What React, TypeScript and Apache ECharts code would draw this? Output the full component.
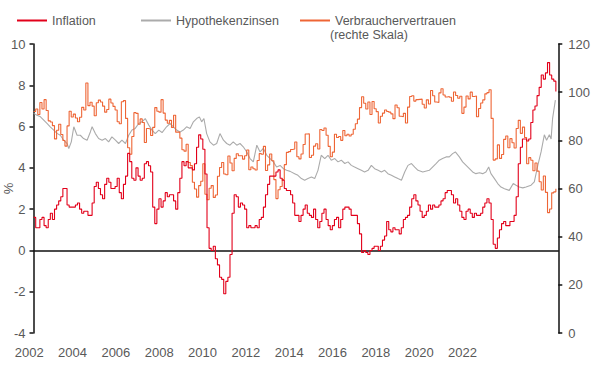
import React, { useEffect, useRef } from "react";
import * as echarts from "echarts";

// Monthly series start in December 2001
const startYear = 2001;
const startMonth = 12;

// Inflation, % (left scale), monthly from Dec 2001
const inflation = [
  1.6,
  1.1, 1.1, 1.5, 1.6, 1.2, 1.1, 1.5, 1.8, 1.5, 2.0, 2.2, 2.4,
  2.6, 3.0, 3.0, 2.2, 2.1, 2.1, 2.1, 2.2, 2.3, 2.0, 1.8, 1.9,
  1.9, 1.7, 1.7, 2.3, 3.1, 3.3, 3.0, 2.7, 2.5, 3.2, 3.5, 3.3,
  3.0, 3.0, 3.1, 3.5, 2.8, 2.5, 3.2, 3.6, 4.7, 4.3, 3.5, 3.4,
  4.0, 3.6, 3.4, 3.5, 4.2, 4.3, 4.1, 3.8, 2.1, 1.3, 2.0, 2.5,
  2.1, 2.4, 2.8, 2.6, 2.7, 2.7, 2.4, 2.0, 2.8, 3.5, 4.3, 4.1,
  4.3, 4.0, 4.0, 3.9, 4.2, 5.0, 5.6, 5.4, 4.9, 3.7, 1.1, 0.1,
  0.0, 0.2, -0.4, -0.7, -1.3, -1.4, -2.1, -1.5, -1.3, -0.2, 1.8, 2.7,
  2.6, 2.1, 2.3, 2.2, 2.0, 1.1, 1.2, 1.1, 1.1, 1.2, 1.1, 1.5,
  1.6, 2.1, 2.7, 3.2, 3.6, 3.6, 3.6, 3.8, 3.9, 3.5, 3.4, 3.0,
  2.9, 2.9, 2.7, 2.3, 1.7, 1.7, 1.4, 1.7, 2.0, 2.2, 1.8, 1.7,
  1.6, 2.0, 1.5, 1.1, 1.4, 1.8, 2.0, 1.5, 1.2, 1.0, 1.2, 1.5,
  1.6, 1.1, 1.5, 2.0, 2.1, 2.1, 2.0, 1.7, 1.7, 1.7, 1.3, 0.8,
  -0.1, 0.0, -0.1, -0.2, 0.0, 0.1, 0.2, 0.2, 0.0, 0.2, 0.5, 0.7,
  1.4, 1.0, 0.9, 1.1, 1.0, 1.0, 0.8, 1.1, 1.5, 1.6, 1.7, 2.1,
  2.5, 2.7, 2.4, 2.2, 1.9, 1.6, 1.7, 1.9, 2.2, 2.0, 2.2, 2.1,
  2.1, 2.2, 2.4, 2.5, 2.8, 2.9, 2.9, 2.7, 2.3, 2.5, 2.2, 1.9,
  1.6, 1.5, 1.9, 2.0, 1.8, 1.6, 1.8, 1.7, 1.7, 1.8, 2.1, 2.3,
  2.5, 2.3, 1.5, 0.3, 0.1, 0.6, 1.0, 1.3, 1.4, 1.2, 1.2, 1.4,
  1.4, 1.7, 2.6, 4.2, 5.0, 5.4, 5.4, 5.3, 5.4, 6.2, 6.8, 7.0,
  7.5, 7.9, 8.5, 8.3, 8.6, 9.1, 8.5, 8.3, 8.2, 7.7,
];

// Consumer confidence (right scale), monthly from Dec 2001
const confidence = [
  92.0,
  93.0, 90.7, 95.7, 93.0, 96.9, 92.4, 88.1, 87.6, 86.1, 80.6, 84.2, 86.7,
  82.4, 79.9, 77.6, 86.0, 92.1, 89.7, 90.9, 89.3, 87.7, 89.6, 93.7, 92.6,
  103.8, 94.4, 95.8, 94.2, 90.2, 95.6, 96.7, 95.9, 94.2, 91.7, 92.8, 97.1,
  95.5, 94.1, 92.6, 87.7, 86.9, 96.0, 96.5, 89.1, 76.9, 74.2, 81.6, 91.5,
  91.2, 86.7, 88.9, 87.4, 79.1, 84.9, 84.7, 82.0, 85.4, 93.6, 92.1, 91.7,
  96.9, 91.3, 88.4, 87.1, 88.3, 85.3, 90.4, 83.4, 83.4, 80.9, 76.1, 75.5,
  78.4, 70.8, 69.5, 62.6, 59.8, 56.4, 61.2, 63.0, 70.3, 57.6, 55.3, 60.1,
  61.2, 56.3, 57.3, 65.1, 68.7, 70.8, 66.0, 65.7, 73.5, 70.6, 67.4, 72.5,
  74.4, 73.6, 73.6, 72.2, 73.6, 76.0, 67.8, 68.9, 68.2, 67.7, 71.6, 74.5,
  74.2, 77.5, 67.5, 69.8, 74.3, 71.5, 63.7, 55.8, 59.5, 60.8, 63.7, 69.9,
  75.0, 75.3, 76.2, 76.4, 79.3, 73.2, 72.3, 74.3, 78.3, 82.6, 82.7, 72.9,
  73.8, 77.6, 78.6, 76.4, 84.5, 84.1, 85.1, 82.1, 77.5, 73.2, 75.1, 82.5,
  81.2, 81.6, 80.0, 84.1, 81.9, 82.5, 81.8, 82.5, 84.6, 86.9, 88.8, 93.6,
  98.1, 95.4, 93.0, 95.9, 90.7, 96.1, 93.1, 91.9, 87.2, 90.0, 91.3, 92.6,
  92.0, 91.7, 91.0, 89.0, 94.7, 93.5, 90.0, 89.8, 91.2, 87.2, 93.8, 98.2,
  98.5, 96.3, 96.9, 97.0, 97.1, 95.0, 93.4, 96.8, 95.1, 100.7, 98.5, 95.9,
  95.7, 99.7, 101.4, 98.8, 98.0, 98.2, 97.9, 96.2, 100.1, 98.6, 97.5, 98.3,
  91.2, 93.8, 98.4, 97.2, 100.0, 98.2, 98.4, 89.8, 93.2, 95.5, 96.8, 99.3,
  99.8, 101.0, 89.1, 71.8, 72.3, 78.1, 72.5, 74.1, 80.4, 81.8, 76.9, 80.7,
  79.0, 76.8, 84.9, 88.3, 82.9, 85.5, 81.2, 70.3, 72.8, 71.7, 67.4, 70.6,
  67.2, 62.8, 59.4, 65.2, 58.4, 50.0, 51.5, 58.2, 58.6, 59.9,
];

// Mortgage rates, % (left scale), read as (decimal year, rate)
const mortgageDates = [
  2001.92, 2002.05, 2002.19, 2002.32, 2002.45, 2002.58, 2002.72, 2002.85, 2002.98, 2003.12,
  2003.25, 2003.32, 2003.42, 2003.52, 2003.65, 2003.78, 2003.91, 2004.05, 2004.18, 2004.25,
  2004.38, 2004.51, 2004.65, 2004.78, 2004.91, 2005.04, 2005.18, 2005.31, 2005.44, 2005.58,
  2005.71, 2005.84, 2005.97, 2006.11, 2006.24, 2006.37, 2006.51, 2006.64, 2006.77, 2006.91,
  2007.04, 2007.22, 2007.36, 2007.49, 2007.62, 2007.76, 2007.89, 2008.02, 2008.16, 2008.29,
  2008.42, 2008.53, 2008.62, 2008.71, 2008.82, 2008.95, 2009.09, 2009.22, 2009.35, 2009.49,
  2009.62, 2009.75, 2009.88, 2010.02, 2010.15, 2010.28, 2010.42, 2010.55, 2010.68, 2010.82,
  2010.95, 2011.08, 2011.22, 2011.35, 2011.48, 2011.61, 2011.75, 2011.88, 2012.01, 2012.15,
  2012.33, 2012.46, 2012.60, 2012.73, 2012.86, 2013.00, 2013.13, 2013.26, 2013.39, 2013.53,
  2013.66, 2013.79, 2013.93, 2014.06, 2014.19, 2014.33, 2014.46, 2014.59, 2014.72, 2014.86,
  2014.99, 2015.12, 2015.26, 2015.39, 2015.52, 2015.66, 2015.79, 2015.92, 2016.05, 2016.19,
  2016.32, 2016.45, 2016.59, 2016.72, 2016.85, 2016.99, 2017.12, 2017.25, 2017.44, 2017.70,
  2017.97, 2018.10, 2018.23, 2018.37, 2018.50, 2018.63, 2018.74, 2018.90, 2019.03, 2019.17,
  2019.30, 2019.43, 2019.56, 2019.70, 2019.83, 2019.96, 2020.07, 2020.16, 2020.30, 2020.43,
  2020.56, 2020.70, 2020.89, 2021.05, 2021.16, 2021.29, 2021.43, 2021.56, 2021.76, 2021.89,
  2022.03, 2022.16, 2022.29, 2022.38, 2022.49, 2022.56, 2022.62, 2022.73,
];
const mortgageRates = [
  6.64, 6.55, 6.47, 6.31, 6.15, 5.99, 5.83, 5.67, 5.58, 5.34,
  5.18, 4.94, 5.26, 5.99, 5.58, 5.58, 5.42, 5.34, 5.74, 5.99,
  5.66, 5.42, 5.34, 5.42, 5.26, 5.50, 5.34, 5.18, 5.34, 5.18,
  5.58, 5.83, 5.91, 6.15, 6.23, 6.39, 6.07, 5.83, 5.66, 5.83,
  5.71, 5.99, 6.15, 5.99, 5.83, 5.74, 5.83, 5.99, 5.91, 6.23,
  6.39, 6.47, 6.23, 6.39, 5.66, 5.26, 5.10, 5.18, 5.66, 5.34,
  5.18, 5.10, 5.26, 5.10, 5.18, 5.02, 4.77, 4.45, 4.29, 5.10,
  4.77, 4.94, 4.61, 4.45, 4.29, 4.04, 4.12, 3.96, 3.88, 3.83,
  3.72, 3.64, 3.48, 3.40, 3.48, 3.56, 3.48, 3.88, 4.61, 4.45,
  4.61, 4.37, 4.45, 4.29, 4.37, 4.21, 4.29, 4.12, 4.04, 3.96,
  3.88, 3.80, 3.88, 4.12, 3.96, 3.88, 3.80, 3.88, 3.72, 3.64,
  3.56, 3.48, 3.40, 3.80, 4.12, 4.21, 4.04, 3.88, 3.80, 3.88,
  4.21, 4.37, 4.45, 4.53, 4.53, 4.69, 4.77, 4.53, 4.29, 4.12,
  3.96, 3.80, 3.72, 3.76, 3.72, 3.80, 4.04, 3.72, 3.48, 3.24,
  3.07, 2.99, 2.91, 3.24, 3.16, 3.07, 3.03, 3.07, 3.16, 3.32,
  4.12, 4.77, 5.60, 5.34, 5.60, 5.40, 6.40, 7.28,
];

// Axes
const xRange = [2001.912, 2022.847];
const yearLabelRange = [2002, 2022];
const yearStep = 2;
const leftRange = [-4, 10];
const leftStep = 2;
const rightRange = [0, 120];
const rightStep = 20;

const seriesNames = ["Inflation", "Hypothekenzinsen", "Verbrauchervertrauen"];
const rightScaleNote = "(rechte Skala)";
const leftAxisName = "%";

const COLORS = ["#E2001A", "#ABABAB", "#EE6535"];
const TEXT = "#595959";
const FONT = "'Liberation Sans', Arial, sans-serif";

function monthly(values: number[]) {
  return values.map((v, i) => [startYear + (startMonth - 1 + i) / 12, v]);
}

export default function App() {
  const ref = useRef<HTMLDivElement>(null);
  useEffect(() => {
    if (!ref.current) return;
    const chart = echarts.init(ref.current, null, { renderer: "svg" });
    const legendBase = {
      top: 9,
      icon: "rect",
      itemWidth: 30,
      itemHeight: 2,
      selectedMode: false,
      textStyle: { color: TEXT, fontSize: 12.5, fontFamily: FONT },
    };
    chart.setOption({
      animation: false,
      backgroundColor: "#ffffff",
      textStyle: { fontFamily: FONT },
      legend: [
        { ...legendBase, left: 12, data: [seriesNames[0]] },
        { ...legendBase, left: 136, data: [seriesNames[1]] },
        { ...legendBase, left: 295, data: [seriesNames[2]] },
      ],
      graphic: [
        {
          type: "text",
          left: 330,
          top: 28,
          style: { text: rightScaleNote, fill: TEXT, fontSize: 12.5, fontFamily: FONT },
        },
      ],
      grid: [
        { left: 33.5, right: 41.7, top: 44, bottom: 43, outerBoundsMode: "none" },
        { left: 29.2, right: 137.5, top: 44, bottom: 43, outerBoundsMode: "none" },
      ],
      xAxis: [
        {
          type: "value",
          gridIndex: 0,
          min: xRange[0],
          max: xRange[1],
          axisLine: { show: true, onZero: true, onZeroAxisIndex: 0, lineStyle: { color: "#111", width: 1.5 } },
          axisTick: { show: false },
          axisLabel: { show: false },
          splitLine: { show: false },
        },
        {
          type: "value",
          gridIndex: 1,
          min: yearLabelRange[0],
          max: yearLabelRange[1],
          interval: yearStep,
          axisLine: { show: false },
          axisTick: { show: false },
          splitLine: { show: false },
          axisLabel: {
            show: true,
            margin: 13,
            color: TEXT,
            fontSize: 13,
            fontFamily: FONT,
            showMinLabel: true,
            showMaxLabel: true,
            formatter: (v: number) => String(v),
          },
        },
      ],
      yAxis: [
        {
          type: "value",
          gridIndex: 0,
          position: "left",
          min: leftRange[0],
          max: leftRange[1],
          interval: leftStep,
          name: leftAxisName,
          nameLocation: "middle",
          nameRotate: 90,
          nameGap: 19,
          nameMoveOverlap: false,
          nameTextStyle: { color: TEXT, fontSize: 13, fontFamily: FONT },
          axisLine: { show: true, lineStyle: { color: "#111", width: 1.5 } },
          axisTick: { show: true, length: 4, lineStyle: { color: "#111", width: 1.5 } },
          axisLabel: { color: TEXT, fontSize: 13, fontFamily: FONT, margin: 8 },
          splitLine: { show: false },
        },
        {
          type: "value",
          gridIndex: 0,
          position: "right",
          min: rightRange[0],
          max: rightRange[1],
          interval: rightStep,
          axisLine: { show: true, lineStyle: { color: "#111", width: 1.5 } },
          axisTick: { show: true, length: 4, lineStyle: { color: "#111", width: 1.5 } },
          axisLabel: { color: TEXT, fontSize: 13, fontFamily: FONT, margin: 10 },
          splitLine: { show: false },
        },
        { type: "value", gridIndex: 1, show: false, min: 0, max: 1 },
      ],
      series: [
        {
          name: seriesNames[0],
          type: "line",
          xAxisIndex: 0,
          yAxisIndex: 0,
          data: monthly(inflation),
          step: "end",
          symbol: "none",
          itemStyle: { color: COLORS[0] },
          lineStyle: { color: COLORS[0], width: 1.1 },
          z: 4,
        },
        {
          name: seriesNames[1],
          type: "line",
          xAxisIndex: 0,
          yAxisIndex: 0,
          data: mortgageDates.map((t, i) => [t, mortgageRates[i]]),
          symbol: "none",
          itemStyle: { color: COLORS[1] },
          lineStyle: { color: COLORS[1], width: 1.1 },
          z: 2,
        },
        {
          name: seriesNames[2],
          type: "line",
          xAxisIndex: 0,
          yAxisIndex: 1,
          data: monthly(confidence),
          step: "end",
          symbol: "none",
          itemStyle: { color: COLORS[2] },
          lineStyle: { color: COLORS[2], width: 1.1 },
          z: 3,
        },
      ],
    });
    return () => chart.dispose();
  }, []);
  return (
    <div
      ref={ref}
      style={{ position: "fixed", left: 0, top: 0, width: 600, height: 376, background: "#fff" }}
    />
  );
}
